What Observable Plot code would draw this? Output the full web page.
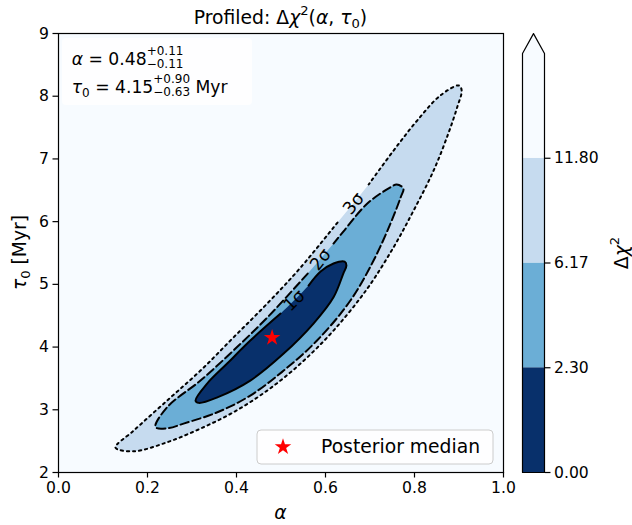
<!DOCTYPE html>
<html><head><meta charset="utf-8">
<script src="https://cdn.jsdelivr.net/npm/d3@7"></script>
<script src="https://cdn.jsdelivr.net/npm/@observablehq/plot@0.6"></script>
<style>
body{margin:0;background:#fff;}
#fig{position:relative;width:632px;height:525px;overflow:hidden;background:#fff;}
#fig svg{position:absolute;left:0;top:0;}
</style></head>
<body><div id="fig"></div>
<script>
// ---- data ----
const xTicks = [0, 0.2, 0.4, 0.6, 0.8, 1.0];
const yTicks = [2, 3, 4, 5, 6, 7, 8, 9];
const cbLevels = [0.00, 2.30, 6.17, 11.80];
const cbColors = ["#08306b", "#6baed6", "#c6dbef", "#f7fbff"];
// contour outlines [alpha, tau0]; each list starts/ends at the inline label gap
const contour3sigma = [[0.627,5.986],[0.544,5.268],[0.469,4.694],[0.393,4.152],[0.319,3.625],[0.244,3.147],[0.169,2.668],[0.128,2.397],[0.169,2.338],[0.244,2.482],[0.319,2.700],[0.393,2.960],[0.469,3.306],[0.544,3.737],[0.618,4.263],[0.694,4.933],[0.753,5.592],[0.798,6.177],[0.843,6.815],[0.876,7.405],[0.896,7.825],[0.906,8.091],[0.900,8.171],[0.858,8.011],[0.806,7.612],[0.753,7.134],[0.697,6.592]];
const contour2sigma = [[0.560,5.172],[0.469,4.470],[0.393,3.944],[0.319,3.466],[0.244,3.040],[0.218,2.724],[0.247,2.708],[0.281,2.780],[0.357,2.960],[0.431,3.227],[0.506,3.625],[0.581,4.104],[0.656,4.742],[0.708,5.380],[0.746,5.970],[0.769,6.389],[0.775,6.528],[0.760,6.592],[0.746,6.549],[0.694,6.289],[0.640,5.842],[0.618,5.651]];
const contour1sigma = [[0.499,4.534],[0.431,4.104],[0.379,3.737],[0.334,3.418],[0.308,3.147],[0.315,3.110],[0.357,3.199],[0.431,3.466],[0.506,3.896],[0.573,4.375],[0.618,4.794],[0.640,5.172],[0.647,5.300],[0.643,5.364],[0.618,5.332],[0.589,5.204],[0.562,4.981]];
const contourLabelText = ["1σ", "2σ", "3σ"];
const contourLabelAt = [[0.530,4.742],[0.589,5.396],[0.663,6.289]];
const posteriorMedian = [[0.48, 4.15]];

// ---- build ----
const fig = document.getElementById("fig");
const pts = arr => arr.map(([a, t]) => ({a, t}));
const labelRot = [-45, -52, -51];
const labels = contourLabelText.map((s, i) => ({s, a: contourLabelAt[i][0], t: contourLabelAt[i][1], r: labelRot[i]}));
const FONT = "DejaVu Sans";
const NB = "\u00a0";
const lineOpts = {x: "a", y: "t", curve: "catmull-rom", stroke: "#000", strokeWidth: 2, fill: "none"};
const fillOpts = {x: "a", y: "t", curve: "catmull-rom-closed", stroke: "none"};

const main = Plot.plot({
  width: 632, height: 525,
  marginLeft: 58, marginRight: 129, marginTop: 33, marginBottom: 53,
  style: {fontFamily: FONT, fontSize: "15.6px", color: "#000", background: "none", overflow: "visible"},
  x: {domain: [0, 1]},
  y: {domain: [2, 9]},
  marks: [
    Plot.frame({fill: cbColors[3], stroke: "none"}),
    Plot.line(pts(contour3sigma), {...fillOpts, fill: cbColors[2]}),
    Plot.line(pts(contour2sigma), {...fillOpts, fill: cbColors[1]}),
    Plot.line(pts(contour1sigma), {...fillOpts, fill: cbColors[0]}),
    Plot.line(pts(contour3sigma), {...lineOpts, strokeDasharray: "2.2,3.9"}),
    Plot.line(pts(contour2sigma), {...lineOpts, strokeDasharray: "8.4,3.8"}),
    Plot.line(pts(contour1sigma), {...lineOpts}),
    Plot.text(labels, {x: "a", y: "t", text: "s", rotate: "r", fontSize: 17.5, fill: "#000"}),
    Plot.dot(pts(posteriorMedian), {x: "a", y: "t", symbol: "star", r: 5.2, fill: "red", stroke: "none"}),
    Plot.frame({stroke: "#000", strokeWidth: 1.2}),
    Plot.axisX({ticks: xTicks, tickFormat: d3.format(".1f"), tickSize: 5.5, tickPadding: 4, strokeWidth: 1.2, label: null}),
    Plot.axisY({ticks: yTicks, tickFormat: d3.format("d"), tickSize: 5.5, tickPadding: 4, strokeWidth: 1.2, label: null})
  ]
});
fig.appendChild(main);

// colorbar (uniform spacing of the contour levels, extend = max)
const nSeg = cbColors.length;
const extendFrac = 0.19;
const tipY = nSeg + extendFrac;
const segs = d3.range(nSeg).map(i => ({lo: i, hi: i + 1, c: cbColors[i]}));
const outline = [{x: 0, y: 0}, {x: 0, y: nSeg}, {x: 0.5, y: tipY}, {x: 1, y: nSeg}, {x: 1, y: 0}, {x: 0, y: 0}];
const cbar = Plot.plot({
  width: 632, height: 525,
  marginLeft: 522, marginRight: 88, marginTop: 53, marginBottom: 53,
  style: {fontFamily: FONT, fontSize: "15.6px", color: "#000", background: "none", overflow: "visible"},
  x: {domain: [0, 1], axis: null},
  y: {domain: [0, nSeg], axis: null},
  marks: [
    ...segs.map(s => Plot.rect([s], {x1: 0, x2: 1, y1: "lo", y2: "hi", fill: s.c})),
    Plot.line(outline.slice(1, 4), {x: "x", y: "y", fill: cbColors[nSeg - 1], stroke: "none"}),
    Plot.line(outline, {x: "x", y: "y", stroke: "#000", strokeWidth: 1.2, fill: "none"}),
    Plot.axisY({anchor: "right", ticks: d3.range(cbLevels.length), tickFormat: i => cbLevels[i].toFixed(2), tickSize: 5.5, tickPadding: 4, strokeWidth: 1.2, label: null})
  ]
});
fig.appendChild(cbar);

// text overlay (titles, labels, annotation, legend)
const over = d3.create("svg").attr("width", 632).attr("height", 525)
  .attr("font-family", FONT).style("overflow", "visible");
fig.appendChild(over.node());
function measure(s, size, it) {
  const t = over.append("text").attr("font-size", size).attr("font-style", it ? "italic" : null).text(s);
  const w = t.node().getComputedTextLength(); t.remove(); return w;
}
function mathText(g, x, y, parts, anchor) {
  const ws = parts.map(p => p.stack ? Math.max(measure(p.stack[0], p.size), measure(p.stack[1], p.size)) : measure(p.s, p.size, p.it));
  let cx = anchor === "middle" ? x - d3.sum(ws) / 2 : x;
  parts.forEach((p, i) => {
    if (p.stack) {
      g.append("text").attr("x", cx).attr("y", y + p.up).attr("font-size", p.size).text(p.stack[0]);
      g.append("text").attr("x", cx).attr("y", y + p.down).attr("font-size", p.size).text(p.stack[1]);
    } else {
      g.append("text").attr("x", cx).attr("y", y + (p.dy || 0)).attr("font-size", p.size)
        .attr("font-style", p.it ? "italic" : null).text(p.s);
    }
    cx += ws[i];
  });
}
const T = 18.75, TS = 13.1, A = 17.2, AS = 12;
// title
mathText(over, 280.5, 24, [
  {s: "Profiled:" + NB + "Δ", size: T}, {s: "χ", size: T, it: true}, {s: "2", size: TS, dy: -9},
  {s: "(", size: T}, {s: "α", size: T, it: true}, {s: "," + NB, size: T}, {s: "τ", size: T, it: true},
  {s: "0", size: TS, dy: 4}, {s: ")", size: T}], "middle");
// x label
mathText(over, 280.5, 519, [{s: "α", size: T, it: true}], "middle");
// y label
const gy = over.append("g").attr("transform", "translate(26,252.5) rotate(-90)");
mathText(gy, 0, 0, [{s: "τ", size: T, it: true}, {s: "0", size: TS, dy: 4}, {s: NB + "[Myr]", size: T}], "middle");
// colorbar label
const gc = over.append("g").attr("transform", "translate(628,253) rotate(-90)");
mathText(gc, 0, 0, [{s: "Δ", size: T}, {s: "χ", size: T, it: true}, {s: "2", size: TS, dy: -9}], "middle");
// annotation box
over.append("rect").attr("x", 62).attr("y", 38).attr("width", 190).attr("height", 67).attr("rx", 4)
  .attr("fill", "#fff").attr("fill-opacity", 0.8);
mathText(over, 71.7, 65, [{s: "α", size: A, it: true}, {s: NB + "=" + NB + "0.48", size: A},
  {stack: ["+0.11", "−0.11"], size: AS, up: -10, down: 3}], "start");
mathText(over, 71.7, 93, [{s: "τ", size: A, it: true}, {s: "0", size: AS, dy: 3.5}, {s: NB + "=" + NB + "4.15", size: A},
  {stack: ["+0.90", "−0.63"], size: AS, up: -10, down: 3}, {s: NB + "Myr", size: A}], "start");
// legend
over.append("rect").attr("x", 257).attr("y", 430).attr("width", 236).attr("height", 34).attr("rx", 4)
  .attr("fill", "#fff").attr("fill-opacity", 0.8).attr("stroke", "#cccccc").attr("stroke-width", 1);
over.append("path").attr("transform", "translate(283,447)")
  .attr("d", d3.symbol(d3.symbolStar, Math.PI * 5.2 * 5.2)()).attr("fill", "red");
over.append("text").attr("x", 321).attr("y", 453).attr("font-size", T).text("Posterior median");
</script></body></html>
